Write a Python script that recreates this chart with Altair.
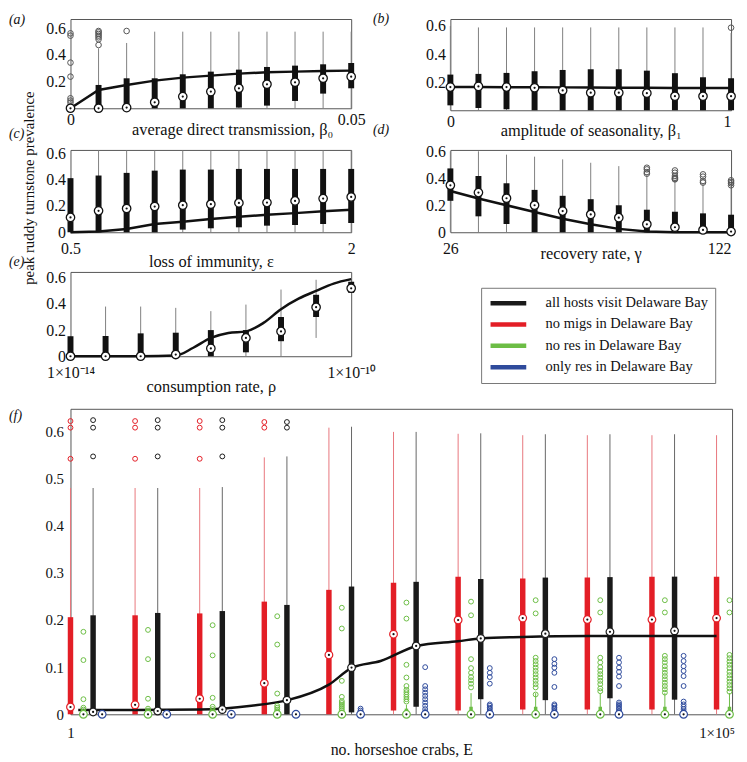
import altair as alt
import pandas as pd

FONT = "Liberation Serif"

# ---------------- panel (a): average direct transmission ----------------
a_x   = [0, 0.005, 0.01, 0.015, 0.02, 0.025, 0.03, 0.035, 0.04, 0.045, 0.05]
a_wlo = [0, 0, 0, 0, 0, 0, 0, 0, 0, 0, 0]
a_q1  = [0, 0, 0, 0, 0, 0, 0.005, 0.02, 0.055, 0.11, 0.15]
a_med = [0, 0, 0.005, 0.045, 0.0875, 0.125, 0.15, 0.18, 0.195, 0.225, 0.2375]
a_q3  = [0.005, 0.175, 0.225, 0.225, 0.255, 0.275, 0.29, 0.31, 0.32, 0.33, 0.34]
a_whi = [0.01, 0.45, 0.49, 0.575, 0.575, 0.575, 0.575, 0.575, 0.575, 0.575, 0.575]
a_out_x = [0, 0, 0, 0, 0, 0, 0, 0.005, 0.005, 0.005, 0.005, 0.005, 0.005, 0.005, 0.01]
a_out_y = [0.5625, 0.545, 0.3425, 0.2375, 0.075, 0.0575, 0.0425,
           0.58, 0.57, 0.5575, 0.545, 0.5325, 0.5175, 0.475, 0.58]
a_line = [0, 0.1375, 0.175, 0.2075, 0.23, 0.245, 0.26, 0.27, 0.275, 0.28, 0.2825]

# ---------------- panel (b): amplitude of seasonality ----------------
b_x   = [0, 0.1, 0.2, 0.3, 0.4, 0.5, 0.6, 0.7, 0.8, 0.9, 1.0]
b_wlo = [0, 0, 0, 0, 0, 0, 0, 0, 0, 0, 0]
b_q1  = [0.035, 0.016, 0.007, 0, 0, 0, 0, 0, 0, 0, 0]
b_med = [0.165, 0.17, 0.165, 0.16, 0.141, 0.125, 0.125, 0.122, 0.10, 0.10, 0.10]
b_q3  = [0.254, 0.259, 0.266, 0.278, 0.287, 0.292, 0.292, 0.282, 0.264, 0.235, 0.228]
b_whi = [0.6, 0.59, 0.59, 0.59, 0.59, 0.59, 0.59, 0.59, 0.59, 0.59, 0.55]
b_out_x = [1.0]
b_out_y = [0.588]
b_line = [0.165, 0.165, 0.164, 0.164, 0.163, 0.162, 0.161, 0.160, 0.159, 0.158, 0.158]

# ---------------- panel (c): loss of immunity ----------------
c_x   = [0.5, 0.65, 0.8, 0.95, 1.1, 1.25, 1.4, 1.55, 1.7, 1.85, 2.0]
c_wlo = [0, 0, 0, 0, 0, 0, 0, 0, 0, 0, 0]
c_q1  = [0, 0, 0, 0, 0.02, 0.03, 0.0375, 0.05, 0.055, 0.0625, 0.07]
c_med = [0.1125, 0.1625, 0.18, 0.195, 0.205, 0.2125, 0.2225, 0.225, 0.2375, 0.255, 0.2675]
c_q3  = [0.41, 0.43, 0.45, 0.467, 0.475, 0.475, 0.48, 0.48, 0.48, 0.48, 0.48]
c_whi = [0.41, 0.62, 0.62, 0.62, 0.62, 0.62, 0.62, 0.62, 0.62, 0.62, 0.62]
c_line = [0, 0.005, 0.025, 0.0625, 0.08, 0.1, 0.1175, 0.1325, 0.145, 0.16, 0.17]

# ---------------- panel (d): recovery rate ----------------
d_x   = [26, 35.6, 45.2, 54.8, 64.4, 74, 83.6, 93.2, 102.8, 112.4, 122]
d_wlo = [0, 0, 0, 0, 0, 0, 0, 0, 0, 0, 0]
d_q1  = [0.233, 0.118, 0.061, 0, 0, 0, 0, 0, 0, 0, 0]
d_med = [0.348, 0.294, 0.252, 0.2, 0.157, 0.132, 0.108, 0.059, 0.037, 0.017, 0.005]
d_q3  = [0.473, 0.417, 0.363, 0.314, 0.27, 0.245, 0.2, 0.167, 0.152, 0.14, 0.13]
d_whi = [0.6, 0.6, 0.575, 0.56, 0.54, 0.515, 0.49, 0.43, 0.385, 0.36, 0.34]
d_out_x = [93.2, 93.2, 93.2, 93.2, 102.8, 102.8, 102.8, 102.8, 102.8, 102.8,
           112.4, 112.4, 112.4, 112.4, 122, 122, 122, 122]
d_out_y = [0.478, 0.466, 0.446, 0.434, 0.458, 0.441, 0.417, 0.404, 0.397, 0.392,
           0.429, 0.412, 0.38, 0.368, 0.385, 0.373, 0.363, 0.348]
d_line = [0.306, 0.25, 0.2, 0.15, 0.1, 0.06, 0.025, 0.005, 0, 0, 0]

# ---------------- panel (e): consumption rate (log10) ----------------
e_x   = [-14, -13.5, -13, -12.5, -12, -11.5, -11, -10.5, -10]
e_wlo = [0, 0, 0, 0, 0, 0, 0, 0.14, 0.485]
e_q1  = [0, 0, 0, 0, 0, 0.03, 0.115, 0.3, 0.485]
e_med = [0, 0, 0, 0.013, 0.06, 0.14, 0.19, 0.375, 0.52]
e_q3  = [0.153, 0.155, 0.175, 0.18, 0.2, 0.2, 0.3, 0.47, 0.57]
e_whi = [0.153, 0.38, 0.38, 0.37, 0.345, 0.395, 0.51, 0.585, 0.57]
e_line_x = [-14, -13.5, -13, -12.5, -12.25, -12, -11.75, -11.5, -11.25, -11, -10.75, -10.5, -10.25, -10]
e_line_y = [0, 0, 0, 0.005, 0.065, 0.14, 0.178, 0.19, 0.255, 0.36, 0.44, 0.5, 0.556, 0.59]

# ---------------- panel (f): horseshoe crabs ----------------
f_logE = [0, 0.5, 1, 1.5, 2, 2.5, 3, 3.5, 4, 4.5, 5]

f_red_wlo = [0, 0, 0, 0, 0, 0, 0, 0, 0, 0, 0]
f_red_q1  = [0, 0, 0, 0, 0, 0.008, 0.008, 0.01, 0.01, 0.01, 0.01]
f_red_med = [0.0155, 0.02, 0.033, 0.066, 0.126, 0.17, 0.2, 0.204, 0.201, 0.201, 0.204]
f_red_q3  = [0.206, 0.21, 0.214, 0.239, 0.264, 0.279, 0.292, 0.288, 0.29, 0.292, 0.292]
f_red_whi = [0.48, 0.48, 0.48, 0.545, 0.608, 0.599, 0.595, 0.592, 0.592, 0.592, 0.592]
f_red_out = {0: [0.622, 0.608, 0.542], 1: [0.622, 0.608, 0.542],
             2: [0.622, 0.608, 0.542], 3: [0.62, 0.608]}

f_blk_wlo = [0, 0, 0, 0, 0, 0, 0, 0, 0, 0]
f_blk_q1  = [0.003, 0.003, 0.004, 0, 0.004, 0.016, 0.032, 0.03, 0.034, 0.031]
f_blk_med = [0.005, 0.007, 0.01, 0.03, 0.099, 0.145, 0.161, 0.171, 0.175, 0.177]
f_blk_q3  = [0.21, 0.215, 0.219, 0.232, 0.271, 0.281, 0.287, 0.29, 0.291, 0.292]
f_blk_whi = [0.48, 0.48, 0.482, 0.547, 0.61, 0.599, 0.596, 0.594, 0.594, 0.594]
f_blk_out = {0: [0.624, 0.608, 0.547], 1: [0.624, 0.608, 0.547],
             2: [0.624, 0.608, 0.547], 3: [0.62, 0.608]}

f_grn_wlo = [0, 0, 0, 0, 0, 0, 0, 0, 0, 0, 0]
f_grn_q1  = [0, 0, 0, 0, 0, 0, 0.004, 0.004, 0.004, 0.004, 0.004]
f_grn_med = [0, 0, 0, 0, 0, 0, 0, 0, 0, 0, 0]
f_grn_q3  = [0, 0, 0, 0, 0, 0.012, 0.016, 0.016, 0.016, 0.016, 0.016]
f_grn_whi = [0, 0, 0, 0, 0, 0.02, 0.045, 0.045, 0.045, 0.045, 0.045]
f_grn_out = {
    0: [0.175, 0.115, 0.032, 0.014, 0.01, 0.006],
    1: [0.179, 0.117, 0.033, 0.012, 0.008, 0.005],
    2: [0.189, 0.125, 0.035, 0.016, 0.011, 0.006],
    3: [0.208, 0.148, 0.044, 0.018, 0.014, 0.01, 0.006],
    4: [0.226, 0.182, 0.071, 0.037, 0.028, 0.024, 0.02, 0.016, 0.012, 0.008],
    5: [0.237, 0.203, 0.105, 0.078, 0.06, 0.052, 0.047, 0.042, 0.037, 0.032, 0.027],
    6: [0.239, 0.21, 0.117, 0.098, 0.088, 0.079, 0.072, 0.065, 0.057],
    7: [0.242, 0.214, 0.12, 0.113, 0.106, 0.099, 0.092, 0.085, 0.078, 0.071, 0.064, 0.057, 0.042],
    8: [0.242, 0.216, 0.12, 0.11, 0.1, 0.092, 0.085, 0.078, 0.071, 0.064, 0.055, 0.049],
    9: [0.242, 0.216, 0.124, 0.117, 0.11, 0.102, 0.095, 0.088, 0.081, 0.074, 0.067, 0.06, 0.053, 0.046],
    10: [0.242, 0.216, 0.126, 0.119, 0.112, 0.105, 0.098, 0.09, 0.083, 0.076, 0.069, 0.062, 0.055, 0.048],
}

f_blu_wlo = [0, 0, 0, 0, 0, 0, 0, 0, 0, 0]
f_blu_q1  = [0, 0, 0, 0, 0, 0, 0, 0, 0, 0]
f_blu_med = [0, 0, 0, 0, 0, 0, 0, 0, 0, 0]
f_blu_q3  = [0, 0, 0, 0, 0, 0, 0, 0, 0, 0]
f_blu_whi = [0, 0, 0, 0, 0, 0, 0, 0, 0, 0]
f_blu_out = {
    4: [0.012, 0.008, 0.004],
    5: [0.1, 0.06, 0.053, 0.046, 0.039, 0.032, 0.025, 0.018, 0.011, 0.005],
    6: [0.098, 0.088, 0.079, 0.065, 0.021, 0.018, 0.014, 0.011, 0.007, 0.004],
    7: [0.117, 0.107, 0.099, 0.088, 0.058, 0.021, 0.018, 0.014, 0.011, 0.007, 0.004],
    8: [0.12, 0.11, 0.099, 0.09, 0.08, 0.06, 0.025, 0.021, 0.018, 0.014, 0.011, 0.007, 0.004],
    9: [0.124, 0.113, 0.102, 0.092, 0.081, 0.06, 0.027, 0.021, 0.016, 0.011, 0.006, 0.002],
}

f_line_x = [0.06, 0.5, 1.0, 1.4, 1.68, 2.0, 2.18, 2.4, 2.68, 3.0, 3.18, 3.5, 4.0, 4.5, 5.0]
f_line_y = [0.009, 0.009, 0.01, 0.018, 0.03, 0.063, 0.099, 0.113, 0.145, 0.155, 0.161, 0.164, 0.166, 0.166, 0.166]

legend_labels = ["all hosts visit Delaware Bay", "no migs in Delaware Bay",
                 "no res in Delaware Bay", "only res in Delaware Bay"]
legend_colors = ["#1a1a1a", "#e31e26", "#6cbd45", "#2f4b9c"]

RED, BLK, GRN, BLU = "#e31e26", "#1a1a1a", "#6cbd45", "#2f4b9c"

YEXPR = "datum.value == 0 ? '0' : format(datum.value, '.1f')"


def lbl_expr(vals, labels):
    expr = "''"
    for v, l in reversed(list(zip(vals, labels))):
        expr = f"abs(datum.value - ({v})) < 1e-6 ? '{l}' : ({expr})"
    return expr


def tag_title(text, dx, dy, size=14):
    return alt.TitleParams(text=text, anchor="start", frame="group", dx=dx, dy=dy,
                           baseline="bottom", offset=0, fontSize=size, font=FONT,
                           fontStyle="italic", fontWeight="normal", color="#111")


def box_panel(x, wlo, q1, med, q3, whi, ox, oy, lx, ly, xdom, ydom, w, h, yvals,
              xvals, xlabels, xtitle, title_y, tag, tag_dx, tag_dy,
              interp="linear", ytitle=None, ytitle_y=None, title_x=None, lpad=8,
              right_flush=False):
    boxes = pd.DataFrame({"x": x, "wlo": wlo, "q1": q1, "med": med, "q3": q3, "whi": whi})
    outs = pd.DataFrame({"x": ox, "y": oy})
    curve = pd.DataFrame({"x": lx, "y": ly})
    xkw = dict(values=xvals, labelExpr=lbl_expr(xvals, xlabels), title=xtitle,
               titleY=title_y, titleBaseline="top", labelFlush=False, ticks=False,
               domain=False, grid=False, labelPadding=lpad, labelFontSize=16,
               titleFontSize=16.5, labelBaseline="top")
    if right_flush:
        xkw["labelAlign"] = {"condition": {"test": f"datum.value == {xvals[-1]}", "value": "right"},
                             "value": "center"}
    if title_x is not None:
        xkw["titleX"] = title_x
    xaxis = alt.Axis(**xkw)
    ykw = dict(values=yvals, labelExpr=YEXPR, ticks=False, domain=False, grid=False,
               labelPadding=5, labelFontSize=16, title=ytitle)
    if ytitle:
        ykw.update(titleFontSize=15, titlePadding=9, titleY=ytitle_y)
    yaxis = alt.Axis(**ykw)
    xs = alt.Scale(domain=xdom, nice=False, zero=False)
    ys = alt.Scale(domain=ydom, nice=False, zero=False)

    def X():
        return alt.X("x:Q", scale=xs, axis=xaxis)

    def Y(f):
        return alt.Y(f"{f}:Q", scale=ys, axis=yaxis)

    whisk = alt.Chart(boxes).mark_rule(color="#808080", strokeWidth=1).encode(
        x=X(), y=Y("wlo"), y2="whi:Q")
    box = alt.Chart(boxes).mark_rule(color="#111111", strokeWidth=6, strokeCap="butt").encode(
        x=X(), y=Y("q1"), y2="q3:Q")
    ln = alt.Chart(curve).mark_line(color="#111111", strokeWidth=2.5, interpolate=interp).encode(
        x=X(), y=Y("y"))
    layers = [whisk, box, ln]
    if len(ox):
        layers.append(alt.Chart(outs).mark_point(shape="circle", filled=False, color="#555555",
                                                 size=32, strokeWidth=1, opacity=1).encode(x=X(), y=Y("y")))
    layers.append(alt.Chart(boxes).mark_point(shape="circle", filled=True, fill="white",
                                              stroke="#111111", strokeWidth=1.3, size=72,
                                              opacity=1).encode(x=X(), y=Y("med")))
    layers.append(alt.Chart(boxes).mark_point(shape="circle", filled=True, color="#111111",
                                              size=5, opacity=1).encode(x=X(), y=Y("med")))
    return alt.layer(*layers).properties(width=w, height=h, title=tag_title(tag, tag_dx, tag_dy))


pa = box_panel(a_x, a_wlo, a_q1, a_med, a_q3, a_whi, a_out_x, a_out_y, a_x, a_line,
               [0, 0.05], [0, 0.67], 283, 90, [0.2, 0.4, 0.6], [0, 0.05], ["0", "0.05"],
               "average direct transmission, β₀", 13, "(a)", -62, 22, title_x=163, lpad=3,
               ytitle="peak ruddy turnstone prevalence", ytitle_y=170)
pb = box_panel(b_x, b_wlo, b_q1, b_med, b_q3, b_whi, b_out_x, b_out_y, b_x, b_line,
               [0, 1], [0, 0.65], 283, 92, [0.2, 0.4, 0.6], [0, 1], ["0", "1"],
               "amplitude of seasonality,  β₁", 12, "(b)", -78, 22, lpad=3, right_flush=True)
pc = box_panel(c_x, c_wlo, c_q1, c_med, c_q3, c_whi, [], [], c_x, c_line,
               [0.5, 2], [0, 0.624], 283, 83, [0, 0.2, 0.4, 0.6], [0.5, 2], ["0.5", "2"],
               "loss of immunity, ε", 22, "(c)", -62, 10)
pd_ = box_panel(d_x, d_wlo, d_q1, d_med, d_q3, d_whi, d_out_x, d_out_y, d_x, d_line,
                [26, 122], [0, 0.61], 283, 83, [0, 0.2, 0.4, 0.6], [26, 122], ["26", "122"],
                "recovery rate, γ", 13, "(d)", -78, 8, right_flush=True)
pe = box_panel(e_x, e_wlo, e_q1, e_med, e_q3, e_whi, [], [], e_line_x, e_line_y,
               [-14, -10], [0, 0.645], 283, 85, [0, 0.2, 0.4, 0.6], [-14, -10],
               ["1×10⁻¹⁴", "1×10⁻¹⁰"], "consumption rate, ρ", 23, "(e)", -62, 13,
               interp="monotone")

# ---------------- legend (lifted to the top level; placed relative to panel (a)'s origin) ----------------
legend_df = pd.DataFrame({"series": legend_labels})
legend_chart = alt.Chart(legend_df).mark_point(opacity=0, filled=False).encode(
    color=alt.Color("series:N", scale=alt.Scale(domain=legend_labels, range=legend_colors),
                    legend=alt.Legend(title=None, orient="none", legendX=414, legendY=271,
                                      symbolType="M-3,0H3", symbolSize=144, symbolStrokeWidth=4.5,
                                      symbolOffset=12, labelOffset=29, labelFont=FONT,
                                      labelFontSize=14.6, labelLimit=0, labelColor="#111",
                                      strokeColor="#777", padding=7, rowPadding=2.5,
                                      fillColor="white", symbolOpacity=1,
                                      symbolFillColor="transparent"))
).properties(width=200, height=60, view=alt.ViewBackground(stroke="transparent"))

# ---------------- panel (f) ----------------
OFF = {"red": 0.0, "green": 0.1, "black": 0.175, "blue": 0.245}
series_defs = [
    ("red", f_red_wlo, f_red_q1, f_red_med, f_red_q3, f_red_whi, RED, "#e8767c", 5.5),
    ("black", f_blk_wlo, f_blk_q1, f_blk_med, f_blk_q3, f_blk_whi, BLK, "#666666", 5.5),
    ("green", f_grn_wlo, f_grn_q1, f_grn_med, f_grn_q3, f_grn_whi, GRN, GRN, 3.5),
    ("blue", f_blu_wlo, f_blu_q1, f_blu_med, f_blu_q3, f_blu_whi, BLU, BLU, 3.5),
]
box_rows = []
for name, wlo, q1, med, q3, whi, col, wcol, bw in series_defs:
    for i in range(len(med)):
        box_rows.append({"x": f_logE[i] + OFF[name], "wlo": wlo[i], "q1": q1[i], "med": med[i],
                         "q3": q3[i], "whi": whi[i], "bc": col, "wc": wcol, "bw": bw})
f_boxes = pd.DataFrame(box_rows)
out_rows = []
for name, outs, col in [("red", f_red_out, RED), ("black", f_blk_out, BLK),
                        ("green", f_grn_out, GRN), ("blue", f_blu_out, BLU)]:
    for i, vals in outs.items():
        for v in vals:
            out_rows.append({"x": f_logE[i] + OFF[name], "y": v, "c": col})
f_outs = pd.DataFrame(out_rows)
f_curve = pd.DataFrame({"x": f_line_x, "y": f_line_y})

fx_axis = alt.Axis(values=[0, 5], labelExpr=lbl_expr([0, 5], ["1", "1×10⁵"]),
                   title="no. horseshoe crabs, E", titleY=28, titleBaseline="top",
                   labelFlush=False, ticks=False, domain=False, grid=False, labelPadding=11,
                   labelFontSize=15, titleFontSize=16, labelBaseline="top")
fy_axis = alt.Axis(values=[0, 0.1, 0.2, 0.3, 0.4, 0.5, 0.6], labelExpr=YEXPR, ticks=False,
                   domain=False, grid=False, labelPadding=7, labelFontSize=15, title=None)
fxs = alt.Scale(domain=[0, 5.12], nice=False, zero=False)
fys = alt.Scale(domain=[0, 0.648], nice=False, zero=False)


def FX():
    return alt.X("x:Q", scale=fxs, axis=fx_axis)


def FY(f):
    return alt.Y(f"{f}:Q", scale=fys, axis=fy_axis)


f_whisk = alt.Chart(f_boxes).mark_rule(strokeWidth=1).encode(
    x=FX(), y=FY("wlo"), y2="whi:Q", color=alt.Color("wc:N", scale=None))
f_box = alt.Chart(f_boxes).mark_rule(strokeCap="butt").encode(
    x=FX(), y=FY("q1"), y2="q3:Q", color=alt.Color("bc:N", scale=None),
    strokeWidth=alt.StrokeWidth("bw:Q", scale=None))
f_ln = alt.Chart(f_curve).mark_line(color="#111111", strokeWidth=2.5, interpolate="monotone").encode(
    x=FX(), y=FY("y"))
f_out = alt.Chart(f_outs).mark_point(shape="circle", filled=False, size=24, strokeWidth=1,
                                     opacity=1).encode(
    x=FX(), y=FY("y"), color=alt.Color("c:N", scale=None))
f_medc = alt.Chart(f_boxes).mark_point(shape="circle", filled=True, fill="white", strokeWidth=1.2,
                                       size=60, opacity=1).encode(
    x=FX(), y=FY("med"), stroke=alt.Stroke("bc:N", scale=None))
f_medd = alt.Chart(f_boxes).mark_point(shape="circle", filled=True, color="#111111", size=5,
                                       opacity=1).encode(x=FX(), y=FY("med"))
pf = alt.layer(f_whisk, f_box, f_ln, f_out, f_medc, f_medd).properties(
    width=667, height=308, title=tag_title("(f)", -62, 28))

top = alt.concat(
    pa, pb, pc, pd_, pe, legend_chart,
    columns=2, spacing={"row": 40, "column": 100}, bounds="flush",
)
chart = alt.vconcat(top, pf, spacing=12).properties(padding=0).configure_view(
    stroke="#555555", strokeWidth=1).configure_axis(
    labelFont=FONT, titleFont=FONT, titleFontWeight="normal", labelColor="#111111",
    titleColor="#111111")

chart.save("out.html", embed_options={"renderer": "svg", "actions": False})
